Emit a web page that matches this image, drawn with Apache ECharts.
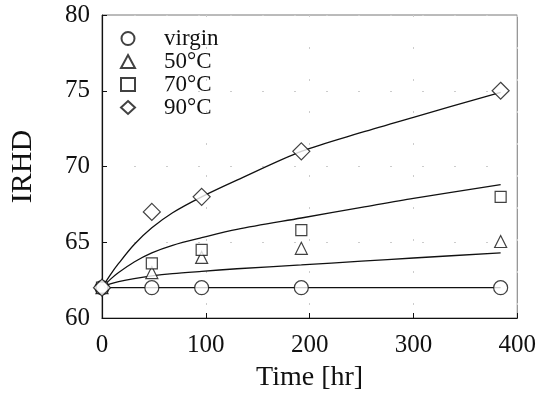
<!DOCTYPE html>
<html>
<head>
<meta charset="utf-8">
<script src="https://cdn.jsdelivr.net/npm/echarts@6/dist/echarts.min.js"></script>
<style>
  html, body { margin: 0; padding: 0; background: #fff; }
  #chart { width: 539px; height: 397px; }
</style>
</head>
<body>
<div id="chart"></div>
<script>
// measured points
const times = [0, 48, 96, 192, 384];
const virgin = [62, 62, 62, 62, 62];
const c50 = [62, 63.0, 64.0, 64.6, 65.05];
const c70 = [62, 63.6, 64.5, 65.8, 68.0];
const c90 = [62, 67.0, 68.0, 71.0, 75.0];

// fitted curves
const fitTimes = [0, 8, 16, 31, 48, 68, 96, 130, 192, 250, 300, 384];
const fit50 = [62, 62.25, 62.4, 62.6, 62.78, 62.93, 63.08, 63.25, 63.5, 63.75, 63.96, 64.3];
const fit70 = [62, 62.55, 63.0, 63.7, 64.3, 64.8, 65.3, 65.85, 66.6, 67.3, 67.9, 68.8];
const fit90 = [62, 62.85, 63.6, 64.85, 65.95, 66.95, 68.0, 69.1, 71.0, 72.25, 73.25, 74.9];

const xTicks = [0, 100, 200, 300, 400];
const yTicks = [60, 65, 70, 75, 80];

const FONT = "'Liberation Serif', 'DejaVu Serif', serif";

function pairs(xs, ys) {
  return xs.map((x, i) => [x, ys[i]]);
}

function markerSeries(name, ys, symbol, size) {
  return {
    name: name,
    type: "scatter",
    data: pairs(times, ys),
    symbol: symbol,
    symbolSize: size,
    z: 5,
    itemStyle: { color: "#fff", borderColor: "#111", borderWidth: 1.2 },
  };
}

function fitSeries(name, ys) {
  return {
    name: name,
    type: "line",
    data: pairs(fitTimes, ys),
    smooth: 0.3,
    showSymbol: false,
    z: 2,
    lineStyle: { color: "#111", width: 1.3 },
  };
}

const chart = echarts.init(document.getElementById("chart"));

chart.setOption({
  animation: false,
  backgroundColor: "#fff",
  grid: {
    left: 84,
    right: 20,
    top: 15,
    bottom: 74,
    show: true,
    borderColor: "#777",
    borderWidth: 1,
  },
  legend: {
    data: ["virgin", "50°C", "70°C", "90°C"],
    orient: "vertical",
    left: 115,
    top: 22,
    itemWidth: 14,
    itemHeight: 13,
    itemGap: 0,
    textStyle: {
      fontFamily: FONT,
      fontSize: 23,
      color: "#111",
      lineHeight: 23,
      padding: [0, 0, 0, 24],
    },
  },
  xAxis: {
    type: "value",
    min: xTicks[0],
    max: xTicks[xTicks.length - 1],
    interval: 100,
    name: "Time [hr]",
    nameLocation: "middle",
    nameGap: 46,
    nameTextStyle: { fontFamily: FONT, fontSize: 28, color: "#111" },
    axisLine: { lineStyle: { color: "#111", width: 1.2 } },
    axisTick: { inside: true, length: 5, lineStyle: { color: "#111" } },
    axisLabel: { fontFamily: FONT, fontSize: 25, color: "#111", margin: 15 },
    splitLine: { show: true, lineStyle: { color: "#ccc", type: [2, 30] } },
  },
  yAxis: {
    type: "value",
    min: yTicks[0],
    max: yTicks[yTicks.length - 1],
    interval: 5,
    name: "IRHD",
    nameLocation: "middle",
    nameGap: 64,
    nameTextStyle: { fontFamily: FONT, fontSize: 30, color: "#111" },
    axisLine: { show: true, lineStyle: { color: "#111", width: 1.2 } },
    axisTick: { show: true, inside: true, length: 5, lineStyle: { color: "#111" } },
    axisLabel: { fontFamily: FONT, fontSize: 25, color: "#111", margin: 12 },
    splitLine: { show: true, lineStyle: { color: "#ccc", type: [2, 30] } },
  },
  series: [
    {
      name: "virgin line",
      type: "line",
      data: pairs(times, virgin),
      showSymbol: false,
      z: 2,
      lineStyle: { color: "#111", width: 1.3 },
    },
    fitSeries("50 fit", fit50),
    fitSeries("70 fit", fit70),
    fitSeries("90 fit", fit90),
    markerSeries("virgin", virgin, "circle", 14),
    markerSeries("50°C", c50, "triangle", 12),
    markerSeries("70°C", c70, "rect", 11),
    markerSeries("90°C", c90, "diamond", 17),
  ],
});
</script>
</body>
</html>
